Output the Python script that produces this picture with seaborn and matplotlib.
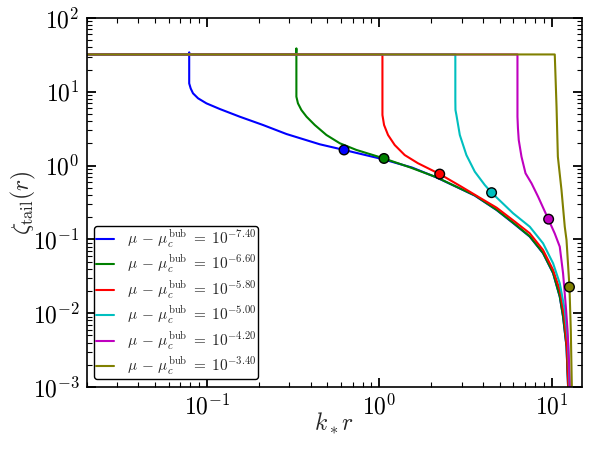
import numpy as np
import pandas as pd
import matplotlib
matplotlib.use("Agg")
import matplotlib.pyplot as plt
import matplotlib.ticker as mticker
import seaborn as sns

# ---------------- data ----------------
exponents = ["-7.40", "-6.60", "-5.80", "-5.00", "-4.20", "-3.40"]
colors = ["#0000ff", "#008000", "#ff0000", "#00bfbf", "#bf00bf", "#808000"]

blue_kr = [0.01, 0.0786, 0.0788, 0.0788, 0.0804, 0.0829, 0.0887, 0.0992, 0.1186, 0.1549,
           0.2114, 0.289, 0.451, 0.624, 1.05, 1.55, 2.14, 3.06, 3.58, 4.79, 6.0, 7.46, 8.91,
           10.19, 11.14, 11.64, 12.19, 12.45, 12.55]
blue_z = [32.1, 32.1, 34.3, 13.0, 11.1, 9.55, 8.17, 6.98, 5.85, 4.60,
          3.55, 2.68, 1.945, 1.63, 1.22, 0.94, 0.693, 0.467, 0.392, 0.250, 0.165, 0.109, 0.0649,
          0.0348, 0.0167, 0.00897, 0.00352, 0.00101, 0.0001]

green_kr = [0.01, 0.329, 0.330, 0.330, 0.337, 0.353, 0.378, 0.422, 0.493, 0.589, 0.736,
            0.919, 1.064, 1.50, 2.14, 3.06, 3.58, 4.79, 6.0, 7.46, 8.91, 10.19, 11.14, 11.64,
            12.19, 12.45, 12.55]
green_z = [32.1, 32.1, 38.8, 8.59, 6.98, 5.66, 4.60, 3.55, 2.60, 2.01, 1.63,
           1.39, 1.25, 0.95, 0.697, 0.469, 0.395, 0.252, 0.167, 0.110, 0.0655, 0.0352, 0.0169,
           0.0091, 0.00356, 0.00102, 0.0001]

red_kr = [0.01, 1.042, 1.042, 1.065, 1.123, 1.228, 1.403, 1.677, 2.24, 2.996, 3.74, 4.79,
          6.0, 7.46, 8.91, 10.19, 11.14, 11.83, 12.25, 12.5, 12.6]
red_z = [32.1, 32.1, 4.85, 3.55, 2.60, 1.90, 1.39, 1.075, 0.768, 0.517, 0.379, 0.269,
         0.180, 0.121, 0.0718, 0.0385, 0.0206, 0.00897, 0.00352, 0.00101, 0.0001]

cyan_kr = [0.01, 2.76, 2.76, 2.765, 2.80, 2.93, 3.20, 3.58, 4.09, 4.48, 5.97, 7.46, 8.91,
           10.19, 11.14, 11.91, 12.45, 12.7, 12.8]
cyan_z = [32.1, 32.1, 7.74, 5.66, 4.85, 2.60, 1.39, 0.827, 0.546, 0.430, 0.226, 0.1486, 0.0885,
          0.0474, 0.0254, 0.01104, 0.00391, 0.00101, 0.0001]

magenta_kr = [0.01, 6.33, 6.33, 6.37, 6.44, 6.68, 7.05, 7.64, 8.34, 9.57, 10.42, 11.14,
              11.64, 12.08, 12.36, 12.62, 12.74, 12.85]
magenta_z = [32.1, 32.1, 4.60, 3.23, 2.22, 1.32, 0.787, 0.575, 0.379, 0.187, 0.120, 0.0796,
             0.0348, 0.01225, 0.00592, 0.00209, 0.00100, 0.0001]

olive_kr = [0.01, 10.42, 10.67, 10.86, 11.40, 11.91, 12.19, 12.68, 12.91, 13.09, 13.2]
olive_z = [32.1, 32.1, 6.28, 1.32, 0.467, 0.1486, 0.0982, 0.0226, 0.00592, 0.00100, 0.0001]

marker_kr = [0.624, 1.064, 2.24, 4.48, 9.60, 12.68]
marker_z = [1.63, 1.25, 0.768, 0.430, 0.188, 0.0226]

# ---------------- assemble long table ----------------
labels = [r"$\mu\,-\,\mu_c^{\mathrm{bub}}\;=\;10^{%s}$" % e for e in exponents]
curves_kr = [blue_kr, green_kr, red_kr, cyan_kr, magenta_kr, olive_kr]
curves_z = [blue_z, green_z, red_z, cyan_z, magenta_z, olive_z]
frames = []
for lab, xs, ys in zip(labels, curves_kr, curves_z):
    frames.append(pd.DataFrame({"kr": xs, "zeta": ys, "label": lab}))
df = pd.concat(frames, ignore_index=True)
mk = pd.DataFrame({"kr": marker_kr, "zeta": marker_z, "label": labels})

sns.set_style("white")
plt.rcParams["mathtext.fontset"] = "cm"
plt.rcParams["font.family"] = ["DejaVu Sans"]

fig = plt.figure(figsize=(5.93, 4.51), dpi=100)
ax = fig.add_axes([0.146, 0.142, 0.8355, 0.818])
ax.set_xscale("log")
ax.set_yscale("log")

palette = dict(zip(labels, colors))
sns.lineplot(data=df, x="kr", y="zeta", hue="label", hue_order=labels, palette=palette,
             sort=False, estimator=None, linewidth=1.5, ax=ax)
sns.scatterplot(data=mk, x="kr", y="zeta", hue="label", hue_order=labels, palette=palette,
                s=48, edgecolor="black", linewidth=1.0, zorder=5, legend=False, ax=ax)

ax.set_xlim(0.02, 15)
ax.set_ylim(1e-3, 1e2)
ax.set_xlabel(r"$k_* r$", fontsize=17)
ax.set_ylabel(r"$\zeta_{\mathrm{tail}}(r)$", fontsize=17)
ax.yaxis.set_label_coords(-0.098, 0.5)
ax.xaxis.set_label_coords(0.5, -0.066)

def dec_fmt(v, pos):
    e = int(round(np.log10(v)))
    return r"$10^{%d}$" % e

for axis in (ax.xaxis, ax.yaxis):
    axis.set_major_locator(mticker.LogLocator(base=10, numticks=20))
    axis.set_major_formatter(mticker.FuncFormatter(dec_fmt))
    axis.set_minor_locator(mticker.LogLocator(base=10, subs=np.arange(2, 10), numticks=20))
    axis.set_minor_formatter(mticker.NullFormatter())

for sp in ax.spines.values():
    sp.set_color("black")
    sp.set_linewidth(1.2)
ax.tick_params(which="both", direction="in", top=True, right=True, bottom=True, left=True,
               colors="black", labelsize=17)
ax.tick_params(which="major", length=6.5, width=1.3, pad=5)
ax.tick_params(which="minor", length=3.5, width=0.8)

sns.move_legend(ax, "lower left", title=None, fontsize=11, frameon=True, fancybox=True,
                edgecolor="black", framealpha=1, borderpad=0.12, handlelength=1.15,
                labelspacing=0.22, handletextpad=0.85, borderaxespad=0.5)

fig.savefig("out.png", dpi=100)
